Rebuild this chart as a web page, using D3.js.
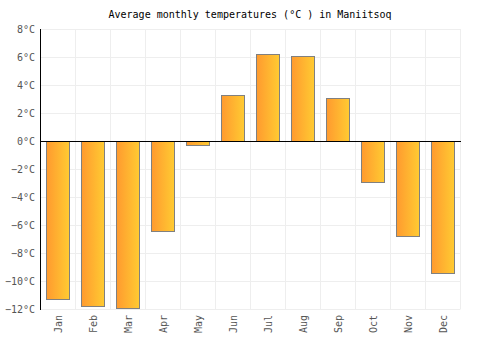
<!DOCTYPE html>
<html>
<head>
<meta charset="utf-8">
<script src="https://cdn.jsdelivr.net/npm/d3@7"></script>
<style>
  body { margin: 0; background: #fff; }
  text { font-family: "DejaVu Sans Mono", monospace; }
</style>
</head>
<body>
<div class="chart_holder"></div>
<script>

const months = ["Jan", "Feb", "Mar", "Apr", "May", "Jun", "Jul", "Aug", "Sep", "Oct", "Nov", "Dec"]
const temps = [-11.3, -11.8, -11.9, -6.4, -0.3, 3.3, 6.2, 6.1, 3.1, -2.9, -6.8, -9.4]
const y_ticks = [-12, -10, -8, -6, -4, -2, 0, 2, 4, 6, 8]
const title_text = "Average monthly temperatures (°C ) in Maniitsoq"

function drawChart() {

    const width = 500
    const height = 350
    const margin = { top: 29, right: 40, bottom: 41, left: 40 }

    const data = months.map((m, i) => ({ month: m, temp: temps[i] }))

    const svg = d3.select(".chart_holder")
        .append("svg")
        .attr("width", width)
        .attr("height", height)

    const defs = svg.append("defs")
    const grad = defs.append("linearGradient")
        .attr("id", "bar_grad")
        .attr("x1", "0%").attr("x2", "100%")
        .attr("y1", "0%").attr("y2", "0%")
    grad.append("stop").attr("offset", "0%").attr("stop-color", "#ff9a2f")
    grad.append("stop").attr("offset", "100%").attr("stop-color", "#ffcb32")

    const x_scale = d3.scaleBand()
        .domain(months)
        .range([margin.left, width - margin.right])
        .paddingInner(0.34)
        .paddingOuter(0.17)

    const y_scale = d3.scaleLinear()
        .domain([-12, 8])
        .range([height - margin.bottom, margin.top])

    const step = x_scale.step()
    const band_left = d => x_scale(d) - step * 0.17

    // grid
    const grid = svg.append("g").attr("class", "grid")

    grid.selectAll("line.h")
        .data(y_ticks)
        .join("line")
        .attr("class", "h")
        .attr("x1", margin.left)
        .attr("x2", width - margin.right + 0.5)
        .attr("y1", d => Math.round(y_scale(d)) + 0.5)
        .attr("y2", d => Math.round(y_scale(d)) + 0.5)
        .attr("stroke", "#eeeeee")

    grid.selectAll("line.v")
        .data(months.slice(1).concat(["end"]))
        .join("line")
        .attr("class", "v")
        .attr("x1", d => Math.round(d == "end" ? width - margin.right : band_left(d)) + 0.5)
        .attr("x2", d => Math.round(d == "end" ? width - margin.right : band_left(d)) + 0.5)
        .attr("y1", margin.top)
        .attr("y2", height - margin.bottom)
        .attr("stroke", "#eeeeee")

    // bars
    const zero = Math.round(y_scale(0))
    svg.append("g")
        .selectAll("rect")
        .data(data)
        .join("rect")
        .attr("x", d => Math.round(x_scale(d.month)) + 0.5)
        .attr("width", Math.round(x_scale.bandwidth()))
        .attr("y", d => d.temp >= 0 ? Math.round(y_scale(d.temp)) + 0.5 : zero + 0.5)
        .attr("height", d => Math.abs(Math.round(y_scale(d.temp)) - zero))
        .attr("fill", "url(#bar_grad)")
        .attr("stroke", "#808080")
        .attr("stroke-width", 1)

    // zero line
    svg.append("line")
        .attr("x1", margin.left)
        .attr("x2", width - margin.right + 1)
        .attr("y1", zero + 0.5)
        .attr("y2", zero + 0.5)
        .attr("stroke", "#000")

    // y axis
    svg.append("line")
        .attr("x1", margin.left + 0.5)
        .attr("x2", margin.left + 0.5)
        .attr("y1", margin.top)
        .attr("y2", height - margin.bottom + 1)
        .attr("stroke", "#000")

    svg.append("g")
        .selectAll("text")
        .data(y_ticks)
        .join("text")
        .attr("x", margin.left - 5)
        .attr("y", d => y_scale(d))
        .attr("dy", "0.35em")
        .attr("text-anchor", "end")
        .attr("font-size", 10)
        .attr("fill", "#555")
        .text(d => (d < 0 ? "\u2212" + Math.abs(d) : d) + "°C")

    // x labels
    svg.append("g")
        .selectAll("text")
        .data(months)
        .join("text")
        .attr("transform", d => `translate(${x_scale(d) + x_scale.bandwidth() / 2 + 4},${height - margin.bottom + 6}) rotate(-90)`)
        .attr("text-anchor", "end")
        .attr("font-size", 10)
        .attr("fill", "#555")
        .text(d => d)

    // title
    svg.append("text")
        .attr("x", width / 2)
        .attr("y", 18)
        .attr("text-anchor", "middle")
        .attr("font-size", 10)
        .attr("fill", "#000")
        .text(title_text)
}

drawChart()
</script>
</body>
</html>
